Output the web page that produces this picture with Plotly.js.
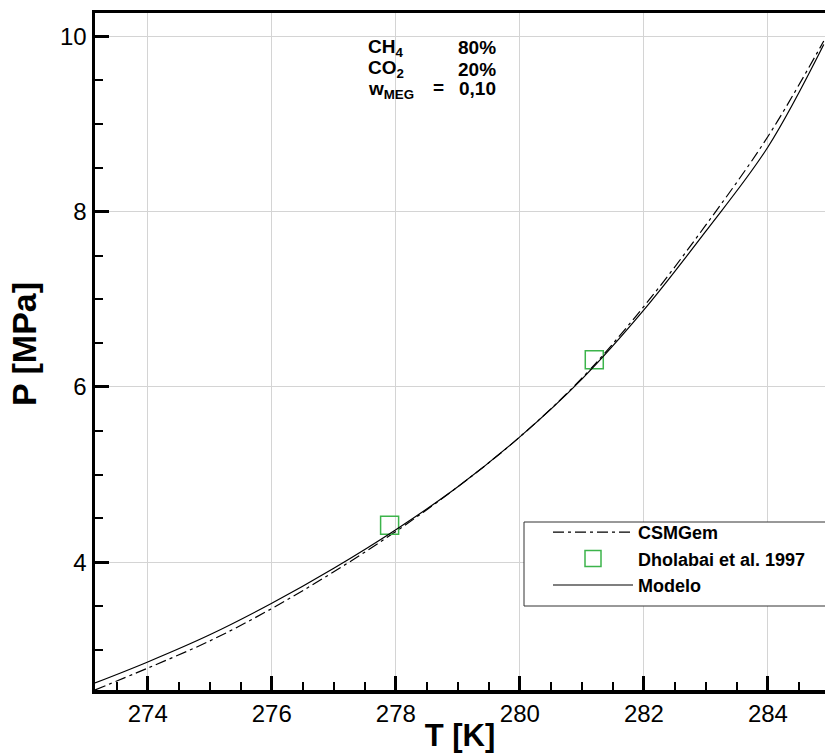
<!DOCTYPE html>
<html>
<head>
<meta charset="utf-8">
<script src="https://cdn.plot.ly/plotly-3.0.1.min.js"></script>
<style>html,body{margin:0;padding:0;background:#fff;}#chart{width:825px;height:753px;}</style>
</head>
<body>
<div id="chart"></div>
<script>
// Modelo (solid line)
const modeloT = [273.15, 274, 275, 276, 277, 278, 279, 280, 281, 282, 283, 284, 284.9];
const modeloP = [2.62, 2.86, 3.17, 3.53, 3.93, 4.37, 4.86, 5.43, 6.09, 6.88, 7.78, 8.74, 9.91];
// CSMGem (dash-dot line)
const csmT = [273.15, 274, 275, 276, 277, 278, 279, 280, 281, 282, 283, 284, 284.9];
const csmP = [2.54, 2.79, 3.10, 3.47, 3.89, 4.35, 4.86, 5.43, 6.10, 6.92, 7.85, 8.86, 9.95];
// Dholabai et al. 1997 (experimental)
const expT = [277.9, 281.2];
const expP = [4.42, 6.31];

const seriesNames = ["CSMGem", "Dholabai et al. 1997", "Modelo"];
const xTickVals = [274, 276, 278, 280, 282, 284];
const yTickVals = [4, 6, 8, 10];

const FONT = "Liberation Sans, Arial, sans-serif";

const traces = [
  {x: csmT, y: csmP, name: seriesNames[0], mode: "lines", type: "scatter",
   line: {color: "#000", width: 1.2, dash: "11px,4px,3px,4px", shape: "spline"}},
  {x: expT, y: expP, name: seriesNames[1], mode: "markers", type: "scatter",
   marker: {symbol: "square-open", size: 18, color: "#3cb44b", line: {width: 1.5, color: "#3cb44b"}}},
  {x: modeloT, y: modeloP, name: seriesNames[2], mode: "lines", type: "scatter",
   line: {color: "#000", width: 1.2, shape: "spline"}}
];

const ann = (x, y, text, anchor) => ({xref: "paper", yref: "paper", x: x, y: y, text: text,
  showarrow: false, xanchor: anchor, yanchor: "middle", borderpad: 0,
  font: {family: FONT, size: 19, color: "#000", weight: "bold"}});

const px = v => (v - 95) / 730;
const py = v => (690 - v) / 677;

const layout = {
  width: 825, height: 753,
  margin: {l: 95, r: 0, t: 13, b: 63},
  paper_bgcolor: "#fff", plot_bgcolor: "#fff",
  font: {family: FONT, color: "#000"},
  showlegend: true,
  xaxis: {
    range: [273.15, 284.92],
    tickvals: xTickVals, ticktext: xTickVals.map(String),
    ticks: "inside", ticklen: 14, tickwidth: 3, tickcolor: "#000",
    minor: {dtick: 0.5, tick0: 274, ticks: "inside", ticklen: 8, tickwidth: 2, tickcolor: "#000", showgrid: false},
    showgrid: true, gridcolor: "#d4d4d4", gridwidth: 1,
    showline: true, linecolor: "#000", linewidth: 3.5, mirror: true,
    zeroline: false,
    tickfont: {family: FONT, size: 24, color: "#000"},
    title: {text: "T [K]", font: {family: FONT, size: 31, color: "#000", weight: "bold"}, standoff: 2}
  },
  yaxis: {
    range: [2.54, 10.27],
    tickvals: yTickVals, ticktext: yTickVals.map(String),
    ticks: "inside", ticklen: 14, tickwidth: 3, tickcolor: "#000",
    minor: {dtick: 0.5, tick0: 4, ticks: "inside", ticklen: 8, tickwidth: 2, tickcolor: "#000", showgrid: false},
    showgrid: true, gridcolor: "#d4d4d4", gridwidth: 1,
    showline: true, linecolor: "#000", linewidth: 3.5, mirror: true,
    zeroline: false,
    tickfont: {family: FONT, size: 24, color: "#000"}
  },
  legend: {
    x: px(548), y: py(514), xanchor: "left", yanchor: "top",
    bgcolor: "rgba(0,0,0,0)", borderwidth: 0,
    font: {family: FONT, size: 18, color: "#000", weight: "bold"},
    itemwidth: 80, tracegroupgap: 0
  },
  shapes: [
    {type: "rect", xref: "paper", yref: "paper", x0: px(524), x1: px(832), y0: py(606), y1: py(522),
     line: {color: "#333", width: 1}, fillcolor: "#fff", layer: "above"}
  ],
  annotations: [
    {xref: "paper", yref: "paper", x: px(24), y: py(344), text: "P [MPa]", textangle: -90,
     showarrow: false, xanchor: "center", yanchor: "middle",
     font: {family: FONT, size: 34, color: "#000", weight: "bold"}},
    ann(px(367), py(48), "CH<sub>4</sub>", "left"),
    ann(px(497), py(48), "80%", "right"),
    ann(px(367), py(69), "CO<sub>2</sub>", "left"),
    ann(px(497), py(69), "20%", "right"),
    ann(px(367), py(90), "w<sub>MEG</sub>", "left"),
    ann(px(438), py(88), "=", "center"),
    ann(px(497), py(89), "0,10", "right")
  ]
};

Plotly.newPlot("chart", traces, layout, {displayModeBar: false, staticPlot: true});
</script>
</body>
</html>
